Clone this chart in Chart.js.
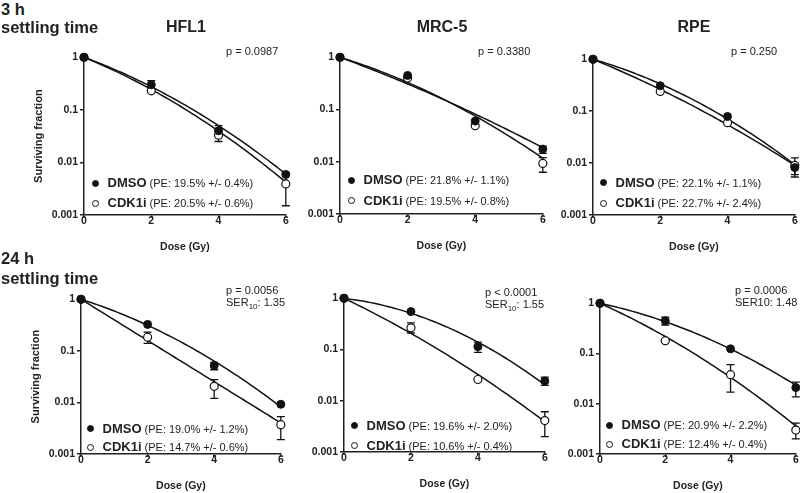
<!DOCTYPE html>
<html>
<head>
<meta charset="utf-8">
<script src="https://cdn.jsdelivr.net/npm/chart.js@4.4.1/dist/chart.umd.min.js"></script>
<style>
  body { margin: 0; width: 800px; height: 493px; overflow: hidden; background: #fff; position: relative;
         font-family: "Liberation Sans", Arial, sans-serif; color: #222; }
  canvas { position: absolute; }
  .t { position: absolute; white-space: nowrap; line-height: 1; }
  .b { font-weight: bold; }
  .dot { display: inline-block; width: 7px; height: 7px; border-radius: 50%; box-sizing: border-box;
         border: 1.2px solid #111; vertical-align: middle; margin-right: 9px; position: relative; top: -1px; }
  sub { font-size: 8px; line-height: 0; }
</style>
</head>
<body>
<script>
// survival data, 3 h row first then 24 h row
const cellLines = ['HFL1', 'MRC-5', 'RPE'];
const rowLabels = ['3 h', '24 h'];
const doses = [0, 2, 4, 6];
const xTicks = [0, 2, 4, 6];
const yTicks = [1, 0.1, 0.01, 0.001];

const dmsoSF = [
  [1, 0.30, 0.040, 0.0059],
  [1, 0.45, 0.060, 0.0175],
  [1, 0.31, 0.079, 0.0082],
  [1, 0.326, 0.052, 0.0092],
  [1, 0.55, 0.114, 0.0243],
  [1, 0.45, 0.124, 0.021]
];
const cdkSF = [
  [1, 0.23, 0.033, 0.0039],
  [1, 0.40, 0.049, 0.0093],
  [1, 0.24, 0.060, 0.0090],
  [1, 0.184, 0.0205, 0.0037],
  [1, 0.265, 0.026, 0.0041],
  [1, 0.18, 0.038, 0.0030]
];
// [low, high] of the error bar, null where none is visible
const dmsoErr = [
  [null, [0.25, 0.36], [0.032, 0.050], null],
  [null, null, null, [0.0145, 0.020]],
  [null, null, null, [0.0060, 0.0100]],
  [null, null, [0.043, 0.060], null],
  [null, null, [0.088, 0.14], [0.020, 0.029]],
  [null, [0.37, 0.53], null, [0.0137, 0.027]]
];
const cdkErr = [
  [null, null, [0.025, 0.040], [0.0015, 0.0063]],
  [null, null, null, [0.0063, 0.012]],
  [null, null, null, [0.0054, 0.0126]],
  [null, [0.14, 0.23], [0.012, 0.0276], [0.0019, 0.0053]],
  [null, [0.21, 0.33], null, [0.0020, 0.0061]],
  [null, null, [0.017, 0.060], [0.0020, 0.0041]]
];
// linear-quadratic fit, SF = exp(-aD - bD^2)
const dmsoAlpha = [0.54, 0.55, 0.43, 0.47, 0.18, 0.32];
const dmsoBeta  = [0.052, 0.019, 0.058, 0.055, 0.078, 0.051];
const cdkAlpha  = [0.60, 0.46, 0.61, 0.92, 0.72, 0.673];
const cdkBeta   = [0.052, 0.047, 0.029, 0.0, 0.034, 0.044];

const dmsoPE = ['19.5% +/- 0.4%', '21.8% +/- 1.1%', '22.1% +/- 1.1%', '19.0% +/- 1.2%', '19.6% +/- 2.0%', '20.9% +/- 2.2%'];
const cdkPE  = ['20.5% +/- 0.6%', '19.5% +/- 0.8%', '22.7% +/- 2.4%', '14.7% +/- 0.6%', '10.6% +/- 0.4%', '12.4% +/- 0.4%'];
const pValues = ['p = 0.0987', 'p = 0.3380', 'p = 0.250', 'p = 0.0056', 'p < 0.0001', 'p = 0.0006'];
const serTexts = [null, null, null, 'SER<sub>10</sub>: 1.35', 'SER<sub>10</sub>: 1.55', 'SER10: 1.48'];

// layout (pixel boxes of each plot area)
const plotBoxes = [
  {left: 84, top: 57, right: 286, bottom: 215},
  {left: 340, top: 57, right: 543, bottom: 214},
  {left: 593, top: 59, right: 795, bottom: 215},
  {left: 81, top: 299, right: 281, bottom: 454},
  {left: 344, top: 298, right: 545, bottom: 452},
  {left: 600, top: 303, right: 796, bottom: 454}
];
const legendPos = [[95, 181.7, 201.7], [351, 178.3, 199], [603, 181, 201.7],
                   [90, 427, 445.3], [354, 424, 444], [609, 423.3, 442.7]];
const pPos = [[226, 51], [478, 51], [731, 51], [226, 290], [485, 292], [735, 290]];

const FONT = '"Liberation Sans", Arial, sans-serif';
const INK = '#222';
const W_Y = 54, H_X = 40, PAD_T = 8, PAD_R = 5;

function addText(html, x, y, size, bold, center) {
  const d = document.createElement('div');
  d.className = 't' + (bold ? ' b' : '');
  d.style.fontSize = size + 'px';
  d.style.left = x + 'px';
  d.style.top = (y - 0.49 * size) + 'px';
  if (center) d.style.transform = 'translateX(-50%)';
  d.innerHTML = html;
  document.body.appendChild(d);
}

function lqCurve(a, b) {
  const pts = [];
  for (let k = 0; k <= 60; k++) {
    const d = k / 10;
    pts.push({x: d, y: Math.exp(-a * d - b * d * d)});
  }
  return pts;
}

const errorBars = {
  id: 'errorBars',
  beforeDatasetsDraw(chart) {
    const ctx = chart.ctx, xs = chart.scales.x, ys = chart.scales.y;
    ctx.save();
    ctx.strokeStyle = '#111';
    ctx.lineWidth = 1.3;
    chart.data.datasets.forEach(ds => {
      if (!ds.errors) return;
      ds.errors.forEach((e, k) => {
        if (!e) return;
        const px = xs.getPixelForValue(ds.data[k].x);
        const lo = ys.getPixelForValue(e[0]), hi = ys.getPixelForValue(e[1]);
        ctx.beginPath();
        ctx.moveTo(px, lo); ctx.lineTo(px, hi);
        ctx.moveTo(px - 4, lo); ctx.lineTo(px + 4, lo);
        ctx.moveTo(px - 4, hi); ctx.lineTo(px + 4, hi);
        ctx.stroke();
      });
    });
    ctx.restore();
  }
};

plotBoxes.forEach((b, i) => {
  const cv = document.createElement('canvas');
  cv.width = b.right - b.left + W_Y + PAD_R;
  cv.height = b.bottom - b.top + PAD_T + H_X;
  cv.style.left = (b.left - W_Y) + 'px';
  cv.style.top = (b.top - PAD_T) + 'px';
  document.body.appendChild(cv);

  const pts = arr => doses.map((d, k) => ({x: d, y: arr[k]}));
  new Chart(cv, {
    type: 'line',
    data: {
      datasets: [
        {data: lqCurve(dmsoAlpha[i], dmsoBeta[i]), borderColor: '#111', borderWidth: 1.5, pointRadius: 0, order: 2},
        {data: lqCurve(cdkAlpha[i], cdkBeta[i]), borderColor: '#111', borderWidth: 1.5, pointRadius: 0, order: 2},
        {data: pts(cdkSF[i]), errors: cdkErr[i], showLine: false, pointRadius: 4,
         pointBackgroundColor: '#fff', pointBorderColor: '#111', pointBorderWidth: 1.2, clip: false, order: 1},
        {data: pts(dmsoSF[i]), errors: dmsoErr[i], showLine: false, pointRadius: 4,
         pointBackgroundColor: '#111', pointBorderColor: '#111', pointBorderWidth: 1, clip: false, order: 0}
      ]
    },
    options: {
      responsive: false,
      animation: false,
      events: [],
      layout: {padding: {top: PAD_T, right: PAD_R, left: 0, bottom: 0}},
      plugins: {legend: {display: false}, tooltip: {enabled: false}},
      scales: {
        x: {
          type: 'linear', min: 0, max: 6,
          afterBuildTicks: s => { s.ticks = xTicks.map(v => ({value: v})); },
          afterFit: s => { s.height = H_X; },
          ticks: {color: INK, padding: -3, font: {family: FONT, size: 10.5, weight: 'bold'}},
          grid: {display: true, drawOnChartArea: false, drawTicks: true, tickLength: 3, color: INK, lineWidth: 1.5},
          border: {display: true, color: INK, width: 1.5},
          title: {display: true, text: 'Dose (Gy)', color: INK, padding: {top: 0, bottom: 2},
                  font: {family: FONT, size: 10.5, weight: 'bold'}}
        },
        y: {
          type: 'logarithmic', min: 0.001, max: 1,
          afterBuildTicks: s => { s.ticks = yTicks.map(v => ({value: v})); },
          afterFit: s => { s.width = W_Y; },
          ticks: {color: INK, padding: 2, autoSkip: false, callback: v => String(v),
                  font: {family: FONT, size: 10.5, weight: 'bold'}},
          grid: {display: true, drawOnChartArea: false, drawTicks: true, tickLength: 4, color: INK, lineWidth: 1.5},
          border: {display: true, color: INK, width: 1.5},
          title: {display: i % 3 === 0, text: 'Surviving fraction', color: INK, padding: {top: 2, bottom: 0},
                  font: {family: FONT, size: 11, weight: 'bold'}}
        }
      }
    },
    plugins: [errorBars]
  });

  const lp = legendPos[i];
  addText('<span class="dot" style="background:#111"></span><span style="font-size:13px;font-weight:bold">DMSO</span> (PE: ' + dmsoPE[i] + ')',
          lp[0] - 3.5, lp[1], 11, false);
  addText('<span class="dot" style="background:#fff"></span><span style="font-size:13px;font-weight:bold">CDK1i</span> (PE: ' + cdkPE[i] + ')',
          lp[0] - 3.5, lp[2], 11, false);
  addText(pValues[i], pPos[i][0], pPos[i][1], 11, false);
  if (serTexts[i]) addText(serTexts[i], pPos[i][0], pPos[i][1] + 12.5, 11, false);
});

// row and column headings
addText(rowLabels[0], 1, 9, 16.5, true);
addText('settling time', 1, 27, 16.5, true);
addText(rowLabels[1], 1, 258, 16.5, true);
addText('settling time', 1, 278, 16.5, true);
addText(cellLines[0], 186, 27, 16, true, true);
addText(cellLines[1], 442, 27, 16, true, true);
addText(cellLines[2], 694, 27, 16, true, true);
</script>
</body>
</html>
